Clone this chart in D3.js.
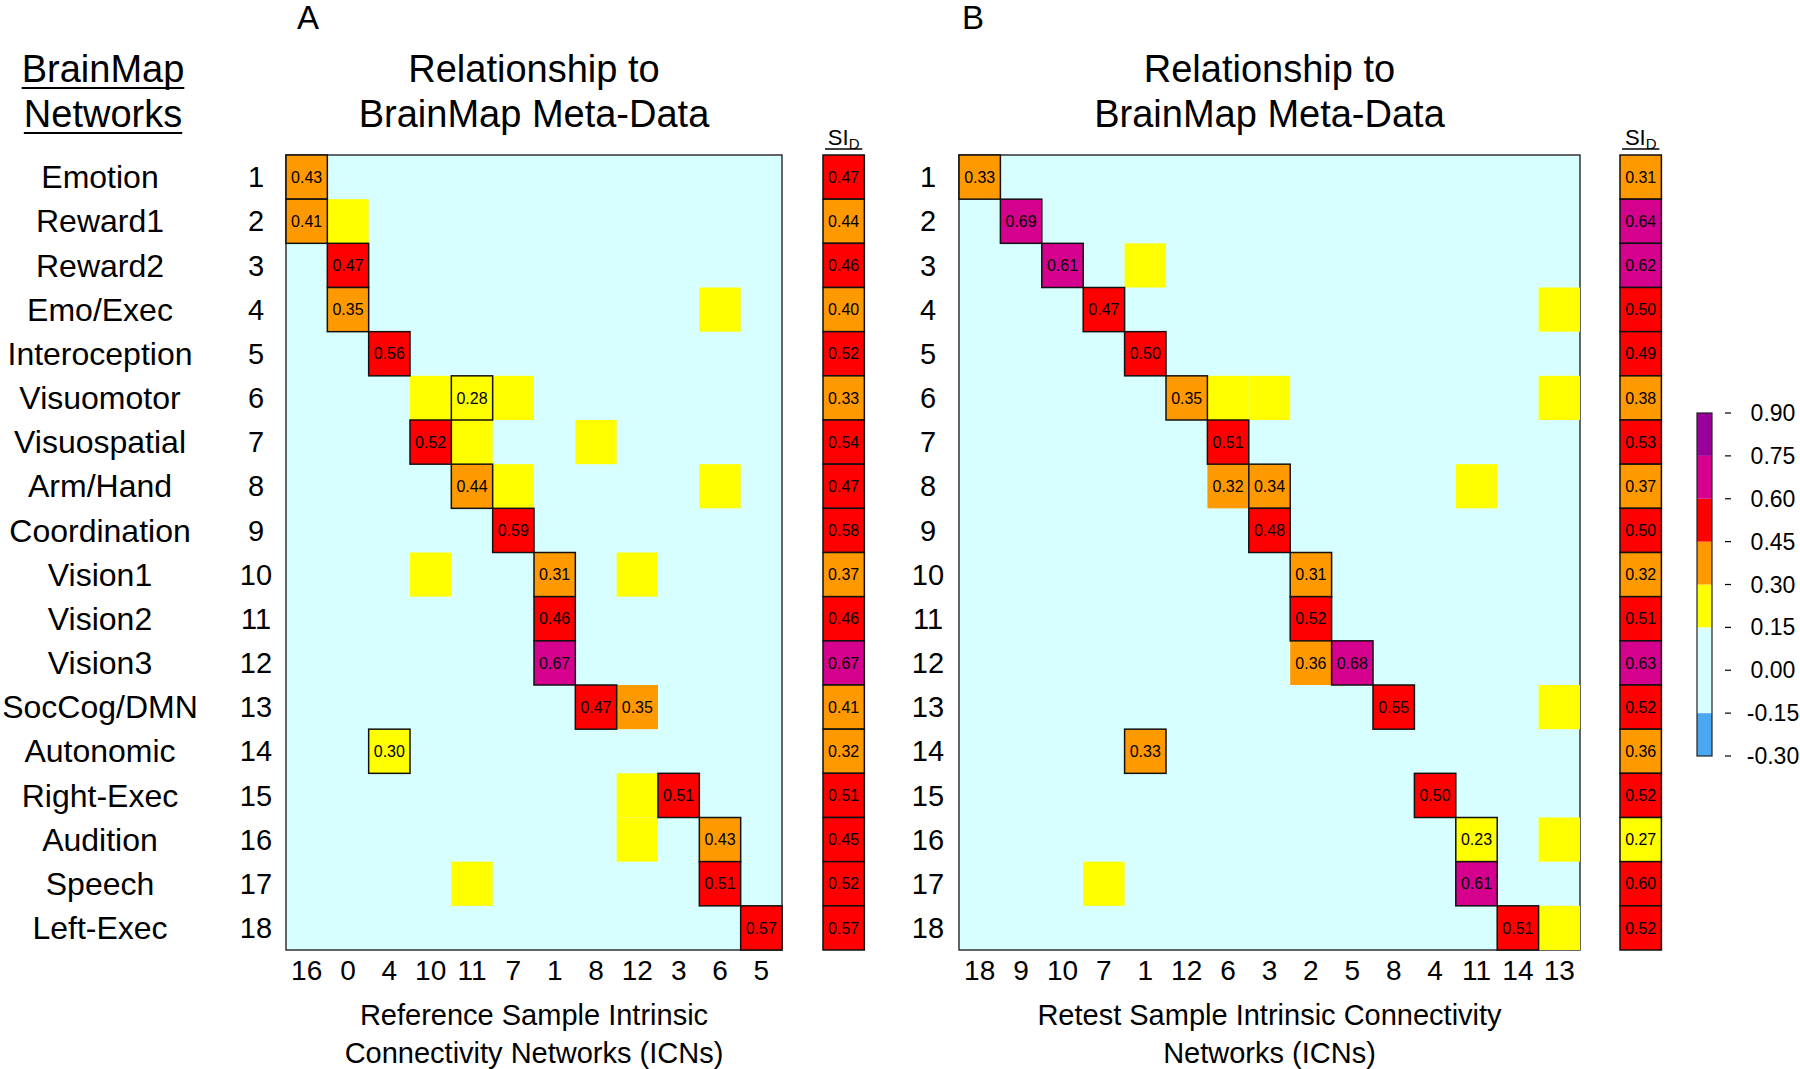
<!DOCTYPE html>
<html>
<head>
<meta charset="utf-8">
<script src="https://cdn.jsdelivr.net/npm/d3@7"></script>
<style>
  body { margin: 0; background: #fff; }
  text { font-family: "Liberation Sans", Arial, sans-serif; fill: #000; }
</style>
</head>
<body>
<div id="chart"></div>
<script>
// Data
var networks = ['Emotion', 'Reward1', 'Reward2', 'Emo/Exec', 'Interoception', 'Visuomotor',
    'Visuospatial', 'Arm/Hand', 'Coordination', 'Vision1', 'Vision2', 'Vision3',
    'SocCog/DMN', 'Autonomic', 'Right-Exec', 'Audition', 'Speech', 'Left-Exec'];
var rowIds = d3.range(1, 19);

var colsA = ['16', '0', '4', '10', '11', '7', '1', '8', '12', '3', '6', '5'];
var colsB = ['18', '9', '10', '7', '1', '12', '6', '3', '2', '5', '8', '4', '11', '14', '13'];

// [row, column label, value, labelled, boxed]
var cellsA = [
    [1, '16', 0.43, 1, 1], [2, '16', 0.41, 1, 1], [2, '0', 0.2, 0, 0],
    [3, '0', 0.47, 1, 1], [4, '0', 0.35, 1, 1], [4, '6', 0.2, 0, 0],
    [5, '4', 0.56, 1, 1], [6, '10', 0.2, 0, 0], [6, '11', 0.28, 1, 1], [6, '7', 0.2, 0, 0],
    [7, '10', 0.52, 1, 1], [7, '11', 0.2, 0, 0], [7, '8', 0.2, 0, 0],
    [8, '11', 0.44, 1, 1], [8, '7', 0.2, 0, 0], [8, '6', 0.2, 0, 0],
    [9, '7', 0.59, 1, 1], [10, '10', 0.2, 0, 0], [10, '1', 0.31, 1, 1], [10, '12', 0.2, 0, 0],
    [11, '1', 0.46, 1, 1], [12, '1', 0.67, 1, 1],
    [13, '8', 0.47, 1, 1], [13, '12', 0.35, 1, 0],
    [14, '4', 0.298, 1, 1], [15, '12', 0.2, 0, 0], [15, '3', 0.51, 1, 1],
    [16, '12', 0.2, 0, 0], [16, '6', 0.43, 1, 1],
    [17, '11', 0.2, 0, 0], [17, '6', 0.51, 1, 1], [18, '5', 0.57, 1, 1]
];
var cellsB = [
    [1, '18', 0.33, 1, 1], [2, '9', 0.69, 1, 1], [3, '10', 0.61, 1, 1], [3, '1', 0.2, 0, 0],
    [4, '7', 0.47, 1, 1], [4, '13', 0.2, 0, 0], [5, '1', 0.50, 1, 1],
    [6, '12', 0.35, 1, 1], [6, '6', 0.2, 0, 0], [6, '3', 0.2, 0, 0], [6, '13', 0.2, 0, 0],
    [7, '6', 0.51, 1, 1], [8, '6', 0.32, 1, 0], [8, '3', 0.34, 1, 1], [8, '11', 0.2, 0, 0],
    [9, '3', 0.48, 1, 1], [10, '2', 0.31, 1, 1], [11, '2', 0.52, 1, 1],
    [12, '2', 0.36, 1, 0], [12, '5', 0.68, 1, 1], [13, '8', 0.55, 1, 1], [13, '13', 0.2, 0, 0],
    [14, '1', 0.33, 1, 1], [15, '4', 0.50, 1, 1], [16, '11', 0.23, 1, 1], [16, '13', 0.2, 0, 0],
    [17, '7', 0.2, 0, 0], [17, '11', 0.61, 1, 1], [18, '14', 0.51, 1, 1], [18, '13', 0.2, 0, 0]
];

var siA = [0.47, 0.44, 0.46, 0.40, 0.52, 0.33, 0.54, 0.47, 0.58, 0.37, 0.46, 0.67, 0.41, 0.32, 0.51, 0.452, 0.52, 0.57];
var siB = [0.31, 0.64, 0.62, 0.50, 0.49, 0.38, 0.53, 0.37, 0.50, 0.32, 0.51, 0.63, 0.52, 0.36, 0.52, 0.27, 0.598, 0.52];

var legendTicks = [0.90, 0.75, 0.60, 0.45, 0.30, 0.15, 0.00, -0.15, -0.30];
var thresholds = [-0.15, 0.15, 0.30, 0.45, 0.60, 0.75];
var palette = ['#4aa8f2', '#d7ffff', '#ffff00', '#ff9900', '#ff0000', '#d6008f', '#990099'];

var W = 1800, H = 1069;
var color = d3.scaleThreshold().domain(thresholds).range(palette);

var svg = d3.select('#chart').append('svg')
    .attr('width', W)
    .attr('height', H)
;

var gridTop = 155, gridBottom = 950;
var y = d3.scaleBand().domain(rowIds).range([gridTop, gridBottom]);

function panel(letter, letterX, cols, cells, si, x0, x1, rowNumX, siX, xTitle) {
    var x = d3.scaleBand().domain(cols).range([x0, x1]);
    var g = svg.append('g');
    var cx = (x0 + x1) / 2;

    g.append('text').text(letter)
        .attr('x', letterX).attr('y', 29)
        .attr('font-size', 33).attr('text-anchor', 'middle');

    g.append('text').text('Relationship to')
        .attr('x', cx).attr('y', 82)
        .attr('font-size', 38).attr('text-anchor', 'middle');
    g.append('text').text('BrainMap Meta-Data')
        .attr('x', cx).attr('y', 127)
        .attr('font-size', 38).attr('text-anchor', 'middle');

    // background
    g.append('rect')
        .attr('x', x0).attr('y', gridTop)
        .attr('width', x1 - x0).attr('height', gridBottom - gridTop)
        .attr('fill', color(0))
        .attr('stroke', '#333').attr('stroke-width', 1.5);

    var sorted = cells.slice().sort(function (a, b) { return a[4] - b[4]; });
    var cg = g.selectAll('g.cell').data(sorted).enter().append('g');
    cg.append('rect')
        .attr('x', function (d) { return x(d[1]); })
        .attr('y', function (d) { return y(d[0]); })
        .attr('width', x.bandwidth())
        .attr('height', y.bandwidth())
        .attr('fill', function (d) { return color(d[2]); })
        .attr('stroke', function (d) { return d[4] ? '#111' : 'none'; })
        .attr('stroke-width', 1.5);
    cg.filter(function (d) { return d[3]; }).append('text')
        .text(function (d) { return d3.format('.2f')(d[2]); })
        .attr('x', function (d) { return x(d[1]) + x.bandwidth() / 2; })
        .attr('y', function (d) { return y(d[0]) + y.bandwidth() / 2; })
        .attr('dy', '0.35em')
        .attr('font-size', 16)
        .attr('text-anchor', 'middle');

    // row numbers
    g.selectAll('text.rn').data(rowIds).enter().append('text')
        .text(function (d) { return d; })
        .attr('x', rowNumX)
        .attr('y', function (d) { return y(d) + y.bandwidth() / 2; })
        .attr('dy', '0.35em')
        .attr('font-size', 29)
        .attr('text-anchor', 'middle');

    // column labels
    g.selectAll('text.cl').data(cols).enter().append('text')
        .text(function (d) { return d; })
        .attr('x', function (d) { return x(d) + x.bandwidth() / 2; })
        .attr('y', 970)
        .attr('dy', '0.35em')
        .attr('font-size', 28)
        .attr('text-anchor', 'middle');

    g.selectAll('text.xt').data(xTitle).enter().append('text')
        .text(function (d) { return d; })
        .attr('x', cx)
        .attr('y', function (d, i) { return 1025 + i * 38; })
        .attr('font-size', 29)
        .attr('text-anchor', 'middle');

    // SI_D column
    var bw = x.bandwidth();
    g.selectAll('rect.si').data(si).enter().append('rect')
        .attr('x', siX)
        .attr('y', function (d, i) { return y(i + 1); })
        .attr('width', bw)
        .attr('height', y.bandwidth())
        .attr('fill', function (d) { return color(d); })
        .attr('stroke', '#111').attr('stroke-width', 1.5);
    g.selectAll('text.si').data(si).enter().append('text')
        .text(function (d) { return d3.format('.2f')(d); })
        .attr('x', siX + bw / 2)
        .attr('y', function (d, i) { return y(i + 1) + y.bandwidth() / 2; })
        .attr('dy', '0.35em')
        .attr('font-size', 16)
        .attr('text-anchor', 'middle');

    var hd = g.append('text')
        .attr('x', siX + bw / 2).attr('y', 145)
        .attr('font-size', 22).attr('text-anchor', 'middle');
    hd.append('tspan').text('SI');
    hd.append('tspan').text('D').attr('font-size', 15).attr('dy', 4);
    g.append('line')
        .attr('x1', siX + 2).attr('x2', siX + bw - 2)
        .attr('y1', 149).attr('y2', 149)
        .attr('stroke', '#000').attr('stroke-width', 1.5);
}

panel('A', 308, colsA, cellsA, siA, 286, 782, 256, 823,
    ['Reference Sample Intrinsic', 'Connectivity Networks (ICNs)']);
panel('B', 973, colsB, cellsB, siB, 959, 1580, 928, 1620,
    ['Retest Sample Intrinsic Connectivity', 'Networks (ICNs)']);

// Network names
svg.selectAll('text.nw').data(networks).enter().append('text')
    .text(function (d) { return d; })
    .attr('x', 100)
    .attr('y', function (d, i) { return y(i + 1) + y.bandwidth() / 2; })
    .attr('dy', '0.35em')
    .attr('font-size', 32)
    .attr('text-anchor', 'middle');

['BrainMap', 'Networks'].forEach(function (t, i) {
    var tx = svg.append('text').text(t)
        .attr('x', 103).attr('y', 82 + i * 45)
        .attr('font-size', 38).attr('text-anchor', 'middle');
    var bb = tx.node().getBBox();
    svg.append('line')
        .attr('x1', bb.x).attr('x2', bb.x + bb.width)
        .attr('y1', 88 + i * 45).attr('y2', 88 + i * 45)
        .attr('stroke', '#000').attr('stroke-width', 2);
});

// Legend
var ly = d3.scaleLinear().domain([-0.30, 0.90]).range([756, 413]);
var bands = d3.range(palette.length).map(function (i) {
    var lo = i === 0 ? -0.30 : thresholds[i - 1];
    var hi = i === palette.length - 1 ? 0.90 : thresholds[i];
    return [lo, hi, palette[i]];
});
svg.selectAll('rect.lg').data(bands).enter().append('rect')
    .attr('x', 1697)
    .attr('y', function (d) { return ly(d[1]); })
    .attr('width', 15)
    .attr('height', function (d) { return ly(d[0]) - ly(d[1]); })
    .attr('fill', function (d) { return d[2]; });
svg.append('rect')
    .attr('x', 1697).attr('y', ly(0.90))
    .attr('width', 15).attr('height', ly(-0.30) - ly(0.90))
    .attr('fill', 'none').attr('stroke', '#222').attr('stroke-width', 1.2);

svg.selectAll('line.lt').data(legendTicks).enter().append('line')
    .attr('x1', 1725).attr('x2', 1731)
    .attr('y1', function (d) { return ly(d); })
    .attr('y2', function (d) { return ly(d); })
    .attr('stroke', '#000').attr('stroke-width', 1.2);
svg.selectAll('text.lt').data(legendTicks).enter().append('text')
    .text(function (d) { return d3.format('.2f')(d).replace('−', '-'); })
    .attr('x', 1773)
    .attr('y', function (d) { return ly(d); })
    .attr('dy', '0.35em')
    .attr('font-size', 23)
    .attr('text-anchor', 'middle');
</script>
</body>
</html>
